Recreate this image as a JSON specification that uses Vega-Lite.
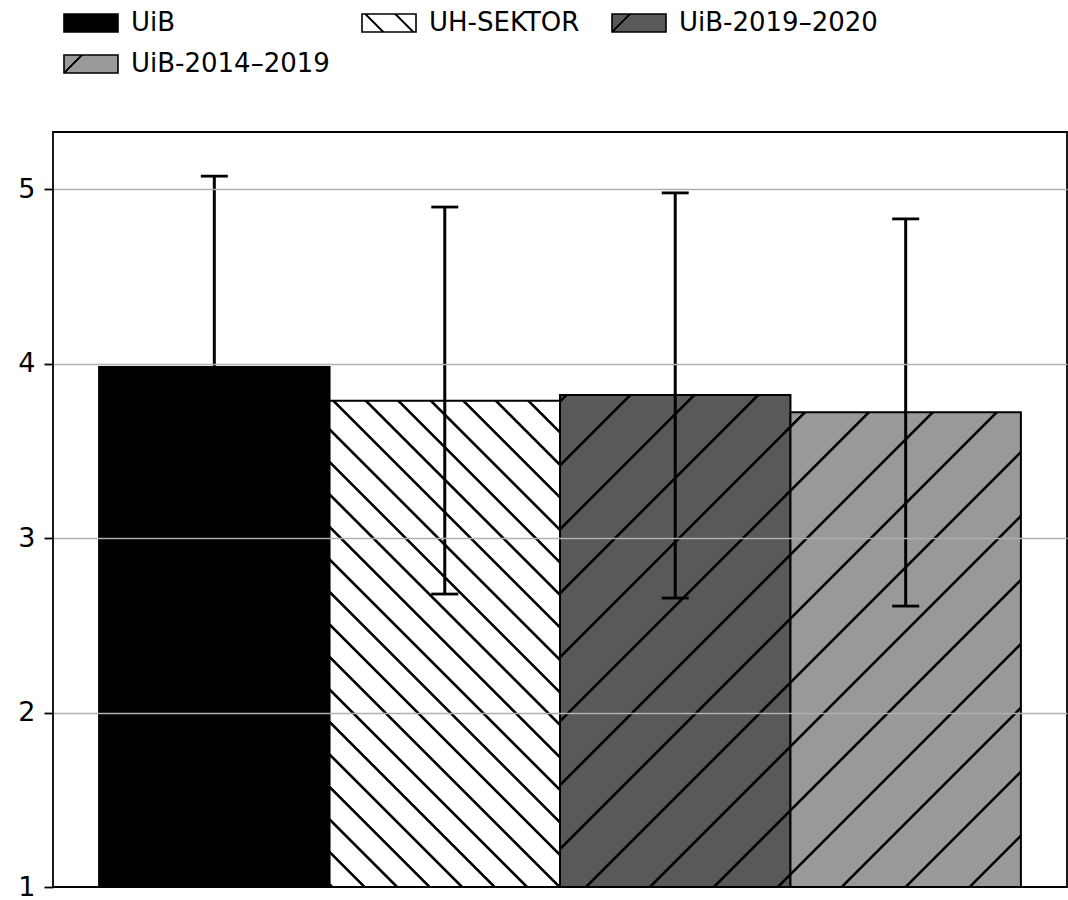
{
  "$schema": "https://vega.github.io/schema/vega-lite/v6.json",
  "autosize": "none",
  "padding": {"left": 53, "top": 132, "right": 1, "bottom": 13},
  "width": 1014,
  "height": 755,
  "background": "white",
  "config": {
    "view": {"stroke": "black", "strokeWidth": 1.8},
    "font": "DejaVu Sans"
  },
  "data": {
    "values": [
      {"group": "UiB", "mean": 3.98, "lo": 2.886, "hi": 5.074},
      {"group": "UH-SEKTOR", "mean": 3.787, "lo": 2.679, "hi": 4.897},
      {"group": "UiB-2019–2020", "mean": 3.82, "lo": 2.656, "hi": 4.978},
      {"group": "UiB-2014–2019", "mean": 3.721, "lo": 2.61, "hi": 4.829}
    ]
  },
  "encoding": {
    "x": {
      "field": "group",
      "type": "nominal",
      "sort": ["UiB", "UH-SEKTOR", "UiB-2019–2020", "UiB-2014–2019"],
      "scale": {"paddingInner": 0, "paddingOuter": 0.2},
      "axis": null
    }
  },
  "layer": [
    {
      "mark": {"type": "bar", "stroke": "black", "strokeWidth": 2},
      "encoding": {
        "y": {
          "field": "mean",
          "type": "quantitative",
          "scale": {"domain": [1, 5.327], "nice": false, "zero": false},
          "axis": {
            "values": [1, 2, 3, 4, 5],
            "format": "d",
            "title": null,
            "domain": false,
            "labelFontSize": 27,
            "labelFont": "DejaVu Sans",
            "labelColor": "black",
            "tickColor": "black",
            "tickSize": 9,
            "tickWidth": 1.8,
            "labelPadding": 9,
            "grid": true,
            "gridColor": {"condition": {"test": "datum.value <= 1", "value": "transparent"}, "value": "#b0b0b0"},
            "gridWidth": 1.6,
            "zindex": 1
          }
        },
        "y2": {"datum": 1},
        "fill": {
          "condition": [
            {"test": "datum.group === 'UH-SEKTOR'", "value": {"gradient": "linear", "x1": 0, "y1": 1, "x2": 0.5704, "y2": -0.2036, "stops": [
              {"offset": 0, "color": "#ffffff"},
              {"offset": 0.0002, "color": "#ffffff"}, {"offset": 0.0018, "color": "#000000"}, {"offset": 0.0054, "color": "#000000"}, {"offset": 0.0070, "color": "#ffffff"},
              {"offset": 0.0455, "color": "#ffffff"}, {"offset": 0.0471, "color": "#000000"}, {"offset": 0.0507, "color": "#000000"}, {"offset": 0.0523, "color": "#ffffff"},
              {"offset": 0.0909, "color": "#ffffff"}, {"offset": 0.0925, "color": "#000000"}, {"offset": 0.0961, "color": "#000000"}, {"offset": 0.0977, "color": "#ffffff"},
              {"offset": 0.1362, "color": "#ffffff"}, {"offset": 0.1378, "color": "#000000"}, {"offset": 0.1414, "color": "#000000"}, {"offset": 0.1430, "color": "#ffffff"},
              {"offset": 0.1815, "color": "#ffffff"}, {"offset": 0.1831, "color": "#000000"}, {"offset": 0.1867, "color": "#000000"}, {"offset": 0.1883, "color": "#ffffff"},
              {"offset": 0.2269, "color": "#ffffff"}, {"offset": 0.2285, "color": "#000000"}, {"offset": 0.2321, "color": "#000000"}, {"offset": 0.2337, "color": "#ffffff"},
              {"offset": 0.2722, "color": "#ffffff"}, {"offset": 0.2738, "color": "#000000"}, {"offset": 0.2774, "color": "#000000"}, {"offset": 0.2790, "color": "#ffffff"},
              {"offset": 0.3176, "color": "#ffffff"}, {"offset": 0.3192, "color": "#000000"}, {"offset": 0.3228, "color": "#000000"}, {"offset": 0.3244, "color": "#ffffff"},
              {"offset": 0.3629, "color": "#ffffff"}, {"offset": 0.3645, "color": "#000000"}, {"offset": 0.3681, "color": "#000000"}, {"offset": 0.3697, "color": "#ffffff"},
              {"offset": 0.4083, "color": "#ffffff"}, {"offset": 0.4099, "color": "#000000"}, {"offset": 0.4135, "color": "#000000"}, {"offset": 0.4151, "color": "#ffffff"},
              {"offset": 0.4536, "color": "#ffffff"}, {"offset": 0.4552, "color": "#000000"}, {"offset": 0.4588, "color": "#000000"}, {"offset": 0.4604, "color": "#ffffff"},
              {"offset": 0.4990, "color": "#ffffff"}, {"offset": 0.5006, "color": "#000000"}, {"offset": 0.5042, "color": "#000000"}, {"offset": 0.5058, "color": "#ffffff"},
              {"offset": 0.5443, "color": "#ffffff"}, {"offset": 0.5459, "color": "#000000"}, {"offset": 0.5495, "color": "#000000"}, {"offset": 0.5511, "color": "#ffffff"},
              {"offset": 0.5896, "color": "#ffffff"}, {"offset": 0.5912, "color": "#000000"}, {"offset": 0.5948, "color": "#000000"}, {"offset": 0.5964, "color": "#ffffff"},
              {"offset": 0.6350, "color": "#ffffff"}, {"offset": 0.6366, "color": "#000000"}, {"offset": 0.6402, "color": "#000000"}, {"offset": 0.6418, "color": "#ffffff"},
              {"offset": 0.6803, "color": "#ffffff"}, {"offset": 0.6819, "color": "#000000"}, {"offset": 0.6855, "color": "#000000"}, {"offset": 0.6871, "color": "#ffffff"},
              {"offset": 0.7257, "color": "#ffffff"}, {"offset": 0.7273, "color": "#000000"}, {"offset": 0.7309, "color": "#000000"}, {"offset": 0.7325, "color": "#ffffff"},
              {"offset": 0.7710, "color": "#ffffff"}, {"offset": 0.7726, "color": "#000000"}, {"offset": 0.7762, "color": "#000000"}, {"offset": 0.7778, "color": "#ffffff"},
              {"offset": 0.8164, "color": "#ffffff"}, {"offset": 0.8180, "color": "#000000"}, {"offset": 0.8216, "color": "#000000"}, {"offset": 0.8232, "color": "#ffffff"},
              {"offset": 0.8617, "color": "#ffffff"}, {"offset": 0.8633, "color": "#000000"}, {"offset": 0.8669, "color": "#000000"}, {"offset": 0.8685, "color": "#ffffff"},
              {"offset": 0.9071, "color": "#ffffff"}, {"offset": 0.9087, "color": "#000000"}, {"offset": 0.9123, "color": "#000000"}, {"offset": 0.9139, "color": "#ffffff"},
              {"offset": 0.9524, "color": "#ffffff"}, {"offset": 0.9540, "color": "#000000"}, {"offset": 0.9576, "color": "#000000"}, {"offset": 0.9592, "color": "#ffffff"},
              {"offset": 1, "color": "#ffffff"}
            ]}},
            {"test": "datum.group === 'UiB-2019–2020'", "value": {"gradient": "linear", "x1": 0, "y1": 0, "x2": 0.564, "y2": 1.2042, "stops": [
              {"offset": 0, "color": "#595959"},
              {"offset": 0.0056, "color": "#595959"}, {"offset": 0.0072, "color": "#000000"}, {"offset": 0.0108, "color": "#000000"}, {"offset": 0.0124, "color": "#595959"},
              {"offset": 0.0941, "color": "#595959"}, {"offset": 0.0957, "color": "#000000"}, {"offset": 0.0993, "color": "#000000"}, {"offset": 0.1009, "color": "#595959"},
              {"offset": 0.1826, "color": "#595959"}, {"offset": 0.1842, "color": "#000000"}, {"offset": 0.1878, "color": "#000000"}, {"offset": 0.1894, "color": "#595959"},
              {"offset": 0.2711, "color": "#595959"}, {"offset": 0.2727, "color": "#000000"}, {"offset": 0.2763, "color": "#000000"}, {"offset": 0.2779, "color": "#595959"},
              {"offset": 0.3596, "color": "#595959"}, {"offset": 0.3612, "color": "#000000"}, {"offset": 0.3648, "color": "#000000"}, {"offset": 0.3664, "color": "#595959"},
              {"offset": 0.4481, "color": "#595959"}, {"offset": 0.4497, "color": "#000000"}, {"offset": 0.4533, "color": "#000000"}, {"offset": 0.4549, "color": "#595959"},
              {"offset": 0.5366, "color": "#595959"}, {"offset": 0.5382, "color": "#000000"}, {"offset": 0.5418, "color": "#000000"}, {"offset": 0.5434, "color": "#595959"},
              {"offset": 0.6251, "color": "#595959"}, {"offset": 0.6267, "color": "#000000"}, {"offset": 0.6303, "color": "#000000"}, {"offset": 0.6319, "color": "#595959"},
              {"offset": 0.7136, "color": "#595959"}, {"offset": 0.7152, "color": "#000000"}, {"offset": 0.7188, "color": "#000000"}, {"offset": 0.7204, "color": "#595959"},
              {"offset": 0.8021, "color": "#595959"}, {"offset": 0.8037, "color": "#000000"}, {"offset": 0.8073, "color": "#000000"}, {"offset": 0.8089, "color": "#595959"},
              {"offset": 0.8906, "color": "#595959"}, {"offset": 0.8922, "color": "#000000"}, {"offset": 0.8958, "color": "#000000"}, {"offset": 0.8974, "color": "#595959"},
              {"offset": 0.9791, "color": "#595959"}, {"offset": 0.9807, "color": "#000000"}, {"offset": 0.9843, "color": "#000000"}, {"offset": 0.9859, "color": "#595959"},
              {"offset": 1, "color": "#595959"}
            ]}},
            {"test": "datum.group === 'UiB-2014–2019'", "value": {"gradient": "linear", "x1": 0, "y1": 0, "x2": 0.5835, "y2": 1.2021, "stops": [
              {"offset": 0, "color": "#999999"},
              {"offset": 0.0172, "color": "#999999"}, {"offset": 0.0188, "color": "#000000"}, {"offset": 0.0224, "color": "#000000"}, {"offset": 0.0240, "color": "#999999"},
              {"offset": 0.1079, "color": "#999999"}, {"offset": 0.1095, "color": "#000000"}, {"offset": 0.1131, "color": "#000000"}, {"offset": 0.1147, "color": "#999999"},
              {"offset": 0.1985, "color": "#999999"}, {"offset": 0.2001, "color": "#000000"}, {"offset": 0.2037, "color": "#000000"}, {"offset": 0.2053, "color": "#999999"},
              {"offset": 0.2892, "color": "#999999"}, {"offset": 0.2908, "color": "#000000"}, {"offset": 0.2944, "color": "#000000"}, {"offset": 0.2960, "color": "#999999"},
              {"offset": 0.3799, "color": "#999999"}, {"offset": 0.3815, "color": "#000000"}, {"offset": 0.3851, "color": "#000000"}, {"offset": 0.3867, "color": "#999999"},
              {"offset": 0.4705, "color": "#999999"}, {"offset": 0.4721, "color": "#000000"}, {"offset": 0.4757, "color": "#000000"}, {"offset": 0.4773, "color": "#999999"},
              {"offset": 0.5612, "color": "#999999"}, {"offset": 0.5628, "color": "#000000"}, {"offset": 0.5664, "color": "#000000"}, {"offset": 0.5680, "color": "#999999"},
              {"offset": 0.6519, "color": "#999999"}, {"offset": 0.6535, "color": "#000000"}, {"offset": 0.6571, "color": "#000000"}, {"offset": 0.6587, "color": "#999999"},
              {"offset": 0.7425, "color": "#999999"}, {"offset": 0.7441, "color": "#000000"}, {"offset": 0.7477, "color": "#000000"}, {"offset": 0.7493, "color": "#999999"},
              {"offset": 0.8332, "color": "#999999"}, {"offset": 0.8348, "color": "#000000"}, {"offset": 0.8384, "color": "#000000"}, {"offset": 0.8400, "color": "#999999"},
              {"offset": 0.9239, "color": "#999999"}, {"offset": 0.9255, "color": "#000000"}, {"offset": 0.9291, "color": "#000000"}, {"offset": 0.9307, "color": "#999999"},
              {"offset": 1, "color": "#999999"}
            ]}}
          ],
          "value": "#000000"
        },
        "opacity": {
          "field": "group",
          "type": "nominal",
          "scale": {
            "domain": ["UiB", "UH-SEKTOR", "UiB-2019–2020", "UiB-2014–2019"],
            "range": [1, 1, 1, 1]
          },
          "legend": {
            "orient": "none",
            "legendX": 10,
            "legendY": -137,
            "direction": "horizontal",
            "columns": 3,
            "title": null,
            "labelFontSize": 26,
            "labelFont": "DejaVu Sans",
            "labelColor": "black",
            "labelLimit": 0,
            "labelOffset": 12,
            "columnPadding": 28,
            "rowPadding": -1,
            "padding": 0,
            "symbolType": "M-1,-0.3333H1V0.3333H-1Z",
            "symbolSize": 2916,
            "symbolStrokeColor": "black",
            "symbolStrokeWidth": 1.6,
            "encoding": {
              "symbols": {
                "stroke": {"value": "black"},
                "strokeWidth": {"value": 1.6},
                "fill": {
                  "condition": [
                    {"test": "datum.value === 'UH-SEKTOR'", "value": {"gradient": "linear", "x1": 0, "y1": 1, "x2": 1.2, "y2": 0.6, "stops": [
                      {"offset": 0, "color": "#ffffff"},
                      {"offset": 0.2683, "color": "#ffffff"}, {"offset": 0.2840, "color": "#000000"}, {"offset": 0.3076, "color": "#000000"}, {"offset": 0.3233, "color": "#ffffff"},
                      {"offset": 0.6850, "color": "#ffffff"}, {"offset": 0.7007, "color": "#000000"}, {"offset": 0.7243, "color": "#000000"}, {"offset": 0.7400, "color": "#ffffff"},
                      {"offset": 1, "color": "#ffffff"}
                    ]}},
                    {"test": "datum.value === 'UiB-2019–2020'", "value": {"gradient": "linear", "x1": 0, "y1": 0, "x2": 1.2, "y2": 0.4, "stops": [
                      {"offset": 0, "color": "#595959"},
                      {"offset": 0.2225, "color": "#595959"}, {"offset": 0.2382, "color": "#000000"}, {"offset": 0.2618, "color": "#000000"}, {"offset": 0.2775, "color": "#595959"},
                      {"offset": 1, "color": "#595959"}
                    ]}},
                    {"test": "datum.value === 'UiB-2014–2019'", "value": {"gradient": "linear", "x1": 0, "y1": 0, "x2": 1.2, "y2": 0.4, "stops": [
                      {"offset": 0, "color": "#999999"},
                      {"offset": 0.2225, "color": "#999999"}, {"offset": 0.2382, "color": "#000000"}, {"offset": 0.2618, "color": "#000000"}, {"offset": 0.2775, "color": "#999999"},
                      {"offset": 1, "color": "#999999"}
                    ]}}
                  ],
                  "value": "#000000"
                }
              }
            }
          }
        }
      }
    },
    {
      "mark": {"type": "rule", "color": "black", "strokeWidth": 3},
      "encoding": {
        "y": {"field": "lo", "type": "quantitative"},
        "y2": {"field": "hi"}
      }
    },
    {
      "mark": {"type": "tick", "color": "black", "size": 27, "thickness": 2.8, "opacity": 1},
      "encoding": {
        "y": {"field": "lo", "type": "quantitative"}
      }
    },
    {
      "mark": {"type": "tick", "color": "black", "size": 27, "thickness": 2.8, "opacity": 1},
      "encoding": {
        "y": {"field": "hi", "type": "quantitative"}
      }
    }
  ]
}
